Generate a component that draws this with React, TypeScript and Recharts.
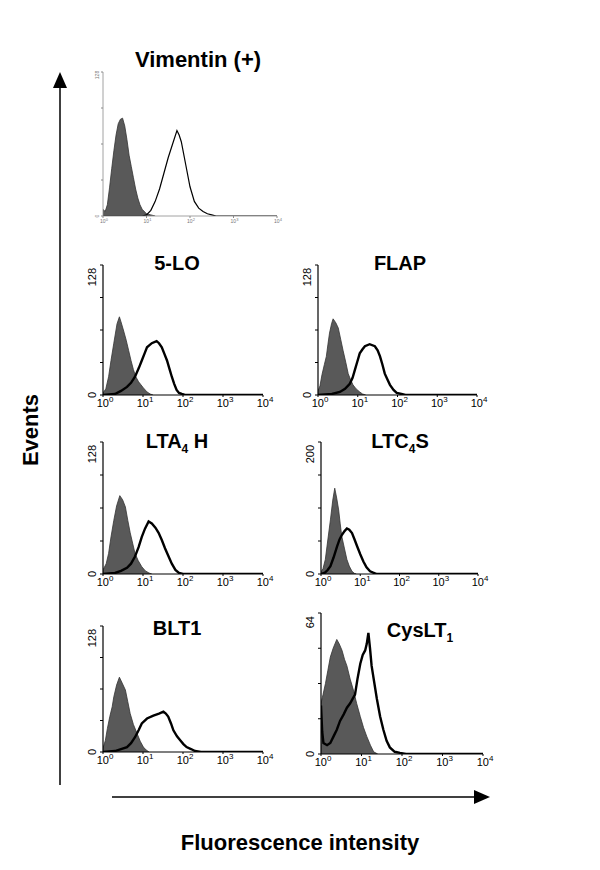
import React from 'react'
import { ComposedChart, Area, Line, XAxis, YAxis } from 'recharts'

// x = log10(fluorescence), y = events
const vimentinIsotype = [[0,6],[0.05,4],[0.1,10],[0.15,25],[0.2,42],[0.25,58],[0.3,72],[0.35,82],[0.4,86],[0.45,87],[0.5,80],[0.55,68],[0.6,54],[0.65,44],[0.7,34],[0.75,24],[0.8,16],[0.85,10],[0.9,6],[1.0,2],[1.1,1],[1.2,0]]
const vimentinStained = [[0,0],[0.9,0],[1.0,1],[1.1,5],[1.2,13],[1.3,24],[1.4,38],[1.5,52],[1.6,64],[1.7,76],[1.75,72],[1.8,66],[1.9,46],[2.0,26],[2.1,13],[2.2,7],[2.3,4],[2.4,2],[2.5,1],[2.6,0],[4,0]]

const loIsotype = [[0,2],[0.07,6],[0.14,18],[0.2,34],[0.27,51],[0.35,70],[0.41,77],[0.45,72],[0.51,64],[0.58,54],[0.64,44],[0.7,34],[0.76,25],[0.82,18],[0.89,13],[0.95,10],[1.01,7],[1.1,3],[1.18,1],[1.25,0]]
const loStained = [[0,0],[0.3,1],[0.45,4],[0.6,8],[0.7,12],[0.8,18],[0.9,27],[0.97,34],[1.05,42],[1.1,47],[1.22,51],[1.34,53],[1.4,51],[1.47,47],[1.53,41],[1.6,34],[1.66,26],[1.72,18],[1.78,11],[1.84,5],[1.9,2],[1.97,1],[2.05,0],[4,0]]

const flapIsotype = [[0,4],[0.05,9],[0.1,20],[0.16,30],[0.21,38],[0.25,50],[0.29,61],[0.34,70],[0.38,75],[0.45,71],[0.51,66],[0.57,55],[0.63,44],[0.7,32],[0.76,21],[0.82,15],[0.88,10],[0.96,6],[1.05,3],[1.12,1],[1.2,0]]
const flapStained = [[0,0],[0.35,1],[0.55,3],[0.68,6],[0.8,11],[0.87,17],[0.93,25],[0.99,33],[1.05,41],[1.12,45],[1.18,48],[1.3,50],[1.43,48],[1.5,44],[1.56,38],[1.62,30],[1.68,21],[1.75,15],[1.81,10],[1.9,5],[1.98,2],[2.1,1],[2.2,0],[4,0]]

const lta4hIsotype = [[0,4],[0.08,10],[0.14,20],[0.2,36],[0.27,52],[0.34,66],[0.42,76],[0.49,72],[0.56,65],[0.62,52],[0.68,40],[0.74,30],[0.8,20],[0.88,13],[0.97,7],[1.06,3],[1.15,1],[1.22,0]]
const lta4hStained = [[0,0],[0.3,1],[0.45,3],[0.6,6],[0.7,10],[0.8,17],[0.89,26],[0.97,36],[1.05,44],[1.14,51],[1.22,49],[1.31,45],[1.39,40],[1.47,33],[1.55,25],[1.64,17],[1.72,10],[1.81,4],[1.9,1],[2.0,0],[4,0]]

const ltc4sIsotype = [[0,3],[0.05,8],[0.11,22],[0.17,50],[0.24,82],[0.3,112],[0.35,130],[0.4,115],[0.45,97],[0.49,76],[0.53,57],[0.6,38],[0.66,22],[0.72,12],[0.79,4],[0.85,1],[0.9,0]]
const ltc4sStained = [[0,0],[0.1,2],[0.17,6],[0.24,12],[0.32,25],[0.41,42],[0.47,52],[0.53,59],[0.6,65],[0.66,69],[0.72,67],[0.79,62],[0.85,53],[0.92,42],[1.0,30],[1.08,19],[1.16,10],[1.25,4],[1.33,2],[1.42,0],[4,0]]

const blt1Isotype = [[0,4],[0.06,12],[0.11,24],[0.17,36],[0.23,46],[0.27,56],[0.34,68],[0.41,76],[0.48,70],[0.56,63],[0.62,51],[0.68,39],[0.76,28],[0.85,19],[0.93,11],[1.01,5],[1.08,2],[1.15,0]]
const blt1Stained = [[0,0],[0.3,1],[0.45,3],[0.6,5],[0.7,9],[0.8,15],[0.89,22],[0.97,29],[1.1,34],[1.26,37],[1.4,39],[1.51,41],[1.57,39],[1.63,36],[1.7,29],[1.76,22],[1.85,16],[1.93,12],[2.01,8],[2.09,5],[2.2,3],[2.3,1],[2.45,0],[4,0]]

const cyslt1Isotype = [[0,23],[0.05,27],[0.11,32],[0.17,38],[0.23,44],[0.3,48],[0.39,52],[0.45,50],[0.52,47],[0.58,43],[0.64,40],[0.72,34],[0.8,29],[0.88,23],[0.97,17],[1.05,12],[1.13,8],[1.22,4],[1.3,1],[1.4,0]]
const cyslt1Stained = [[0,22],[0.03,10],[0.06,5],[0.15,4],[0.23,5],[0.31,8],[0.39,11],[0.47,15],[0.56,18],[0.64,21],[0.72,23],[0.78,25],[0.84,27],[0.9,34],[0.97,41],[1.03,45],[1.09,47],[1.13,50],[1.17,55],[1.21,48],[1.25,40],[1.31,33],[1.38,25],[1.46,17],[1.54,11],[1.62,6],[1.7,3],[1.82,1],[1.95,0.5],[2.1,0],[4,0]]

const xTicks = [0, 1, 2, 3, 4]
const yTicks128 = [0, 32, 64, 96, 128]
const yTicks200 = [0, 50, 100, 150, 200]
const yTicks64 = [0, 16, 32, 48, 64]

const FONT = '"Liberation Sans", Arial, Helvetica, sans-serif'

const toRows = (pts: number[][]) => pts.map(([x, y]) => ({ x, y }))

interface Box { x0: number; x1: number; y0: number; y1: number }

interface PanelProps {
  box: Box
  isotype: number[][]
  stained: number[][]
  yTicks: number[]
  faint?: boolean
}

const YW = 30
const RM = 16
const TM = 6
const XH = 22

function Panel({ box, isotype, stained, yTicks, faint = false }: PanelProps) {
  const width = box.x1 - box.x0 + YW + RM
  const height = box.y1 - box.y0 + TM + XH
  const ymax = yTicks[yTicks.length - 1]
  const axisColor = faint ? '#8a8a8a' : '#000'
  const axisW = faint ? 0.8 : 1.2

  const xTick = (p: any) => {
    const { x, y, payload } = p
    return (
      <text x={x + (faint ? 1 : 2)} y={y + (faint ? 4 : 9)} textAnchor="middle" fontFamily={FONT}
        fontSize={faint ? 5 : 11} fill={faint ? '#777' : '#000'}>
        10<tspan dy={faint ? -2 : -5} fontSize={faint ? 4 : 8}>{payload.value}</tspan>
      </text>
    )
  }

  const yTick = (p: any) => {
    const { x, y, payload } = p
    const v = payload.value
    if (v !== 0 && v !== ymax) return <g />
    const bx = x - (faint ? 2 : 4)
    const anchor = faint ? 'middle' : v === ymax ? 'end' : 'middle'
    return (
      <text x={bx} y={y} transform={`rotate(-90 ${bx} ${y})`} textAnchor={anchor}
        fontFamily={FONT} fontSize={faint ? 5 : 11} fill={faint ? '#777' : '#000'}>
        {v}
      </text>
    )
  }

  return (
    <div style={{ position: 'absolute', left: box.x0 - YW, top: box.y0 - TM }}>
      <ComposedChart width={width} height={height} margin={{ top: TM, right: RM, bottom: 0, left: 0 }}>
        <XAxis type="number" dataKey="x" domain={[0, 4]} ticks={xTicks} allowDataOverflow
          height={XH} tickSize={2} tickMargin={1} tick={xTick}
          axisLine={{ stroke: axisColor, strokeWidth: axisW }} tickLine={{ stroke: axisColor }} />
        <YAxis type="number" dataKey="y" domain={[0, ymax]} ticks={yTicks} allowDataOverflow
          width={YW} tickSize={faint ? 2 : 3} tickMargin={0} tick={yTick}
          axisLine={{ stroke: axisColor, strokeWidth: axisW }} tickLine={{ stroke: axisColor }} />
        <Area data={toRows(isotype)} dataKey="y" type="linear" fill="#595959" fillOpacity={1}
          stroke="#333" strokeWidth={0.8} isAnimationActive={false} />
        <Line data={toRows(stained)} dataKey="y" type="linear" stroke="#000"
          strokeWidth={faint ? 1.2 : 2.4} dot={false} isAnimationActive={false} />
      </ComposedChart>
    </div>
  )
}

function Title({ x, y, size = 20, children }: { x: number; y: number; size?: number; children: React.ReactNode }) {
  return (
    <div style={{
      position: 'absolute', left: x, top: y, transform: 'translate(-50%, -50%)',
      fontFamily: FONT, fontWeight: 'bold', fontSize: size, whiteSpace: 'nowrap', lineHeight: 1, color: '#000',
    }}>
      {children}
    </div>
  )
}

const Sub = ({ children }: { children: React.ReactNode }) => (
  <span style={{ fontSize: '0.6em', position: 'relative', top: '0.4em' }}>{children}</span>
)

export default function App() {
  return (
    <div style={{ position: 'absolute', left: 0, top: 0, width: 600, height: 870, background: '#fff', overflow: 'hidden' }}>
      <Panel box={{ x0: 103, x1: 277, y0: 72, y1: 216 }} isotype={vimentinIsotype} stained={vimentinStained} yTicks={yTicks128} faint />
      <Panel box={{ x0: 103, x1: 263, y0: 265, y1: 395 }} isotype={loIsotype} stained={loStained} yTicks={yTicks128} />
      <Panel box={{ x0: 318, x1: 477, y0: 265, y1: 395 }} isotype={flapIsotype} stained={flapStained} yTicks={yTicks128} />
      <Panel box={{ x0: 103, x1: 263, y0: 442, y1: 574 }} isotype={lta4hIsotype} stained={lta4hStained} yTicks={yTicks128} />
      <Panel box={{ x0: 321, x1: 478, y0: 442, y1: 574 }} isotype={ltc4sIsotype} stained={ltc4sStained} yTicks={yTicks200} />
      <Panel box={{ x0: 103, x1: 263, y0: 626, y1: 752 }} isotype={blt1Isotype} stained={blt1Stained} yTicks={yTicks128} />
      <Panel box={{ x0: 321, x1: 483, y0: 613, y1: 754 }} isotype={cyslt1Isotype} stained={cyslt1Stained} yTicks={yTicks64} />

      <Title x={198} y={60} size={22}>Vimentin (+)</Title>
      <Title x={177} y={263}>5-LO</Title>
      <Title x={400} y={263}>FLAP</Title>
      <Title x={177} y={441}>LTA<Sub>4</Sub> H</Title>
      <Title x={400} y={441}>LTC<Sub>4</Sub>S</Title>
      <Title x={177} y={628}>BLT1</Title>
      <Title x={420} y={630}>CysLT<Sub>1</Sub></Title>

      <svg width={600} height={870} style={{ position: 'absolute', left: 0, top: 0, pointerEvents: 'none' }}>
        <line x1={60} y1={785} x2={60} y2={86} stroke="#000" strokeWidth={1.5} />
        <polygon points="60,72 53,88 67,88" fill="#000" />
        <line x1={112} y1={797} x2={476} y2={797} stroke="#000" strokeWidth={1.5} />
        <polygon points="490,797 474,790 474,804" fill="#000" />
        <text x={30} y={430} transform="rotate(-90 30 430)" textAnchor="middle" dominantBaseline="central"
          fontFamily={FONT} fontWeight="bold" fontSize={22}>Events</text>
        <text x={300} y={842} textAnchor="middle" dominantBaseline="central"
          fontFamily={FONT} fontWeight="bold" fontSize={22}>Fluorescence intensity</text>
      </svg>
    </div>
  )
}
